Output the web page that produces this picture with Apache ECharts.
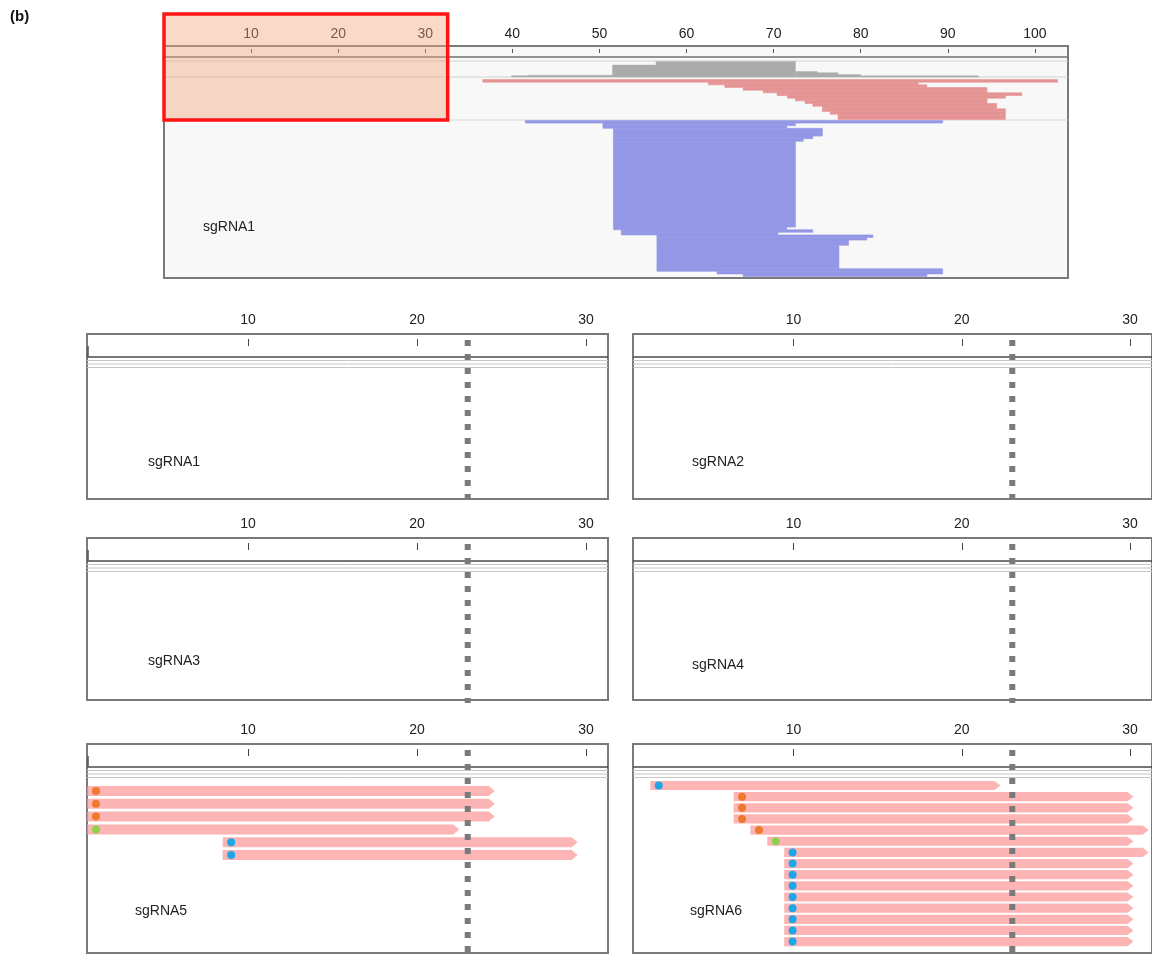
<!DOCTYPE html>
<html>
<head>
<meta charset="utf-8">
<script src="https://cdn.jsdelivr.net/npm/echarts@6/dist/echarts.min.js"></script>
<style>
html,body{margin:0;padding:0;background:#fff}
#main{width:1152px;height:956px}
</style>
</head>
<body>
<div id="main"></div>
<script>
// overview track: coverage [start, end, depth]
var greyCoverage = [[39.9,41.9,1.3],[41.9,51.5,1.8],[51.5,56.5,12],[56.5,72.5,15.5],[72.5,75,5.5],[75,77.4,4.3],[77.4,80,2.5],[80,93.5,1.2]];
// forward reads, one per row [start, end]
var redReads = [[36.6,102.6],[62.5,86.6],[64.4,87.6],[66.5,94.5],[68.8,94.5],[70.4,98.5],[71.6,96.6],[72.5,94.5],
  [73.6,94.5],[74.5,95.6],[75.6,95.6],[75.6,96.6],[76.5,96.6],[77.4,96.6],[77.4,96.6]];
// reverse reads grouped [start, end, rows]
var blueBlocks = [[41.5,89.4,1],[50.4,72.5,1],[50.4,71.5,1],[51.6,75.6,3],[51.6,74.5,1],[51.6,73.4,1],[51.6,72.5,33],
  [51.6,71.5,1],[52.5,74.5,1],[52.5,70.5,1],[56.6,81.4,1],[56.6,80.7,1],[56.6,78.6,2],[56.6,77.5,9],[56.6,89.4,1],
  [63.5,89.4,1],[66.5,87.6,1]];
var topTicks = [10,20,30,40,50,60,70,80,90,100];
var highlight = [0, 32.57];

// zoomed panels: reads [start, end, marker]  (o = orange, g = green, b = blue)
var panelTicks = [10,20,30];
var cutSite = 23;
var sg5Reads = [[0.5,24.6,'o'],[0.5,24.6,'o'],[0.5,24.6,'o'],[0.5,22.5,'g'],[8.5,29.5,'b'],[8.5,29.5,'b']];
var sg6Reads = [[1.5,22.3,'b'],[6.45,30.2,'o'],[6.45,30.2,'o'],[6.45,30.2,'o'],[7.45,31.1,'o'],[8.45,30.2,'g'],
  [9.45,31.1,'b'],[9.45,30.2,'b'],[9.45,30.2,'b'],[9.45,30.2,'b'],[9.45,30.2,'b'],[9.45,30.2,'b'],[9.45,30.2,'b'],
  [9.45,30.2,'b'],[9.45,30.2,'b']];
var panelNames = ['sgRNA1','sgRNA2','sgRNA3','sgRNA4','sgRNA5','sgRNA6'];

var FONT = 'Liberation Sans, Arial, Helvetica, sans-serif';
var markerColor = {o:'#ef7a2c', g:'#8fcf4e', b:'#1ea6e8'};
var TOP_MAX = 103.8, P_MIN = 0.47, P_MAX = 31.3;

var myChart = echarts.init(document.getElementById('main'));

function rect(api, x0, x1, y0, y1) {
  var a = api.coord([x0, y0]), b = api.coord([x1, y1]);
  return {x:a[0], y:a[1], width:b[0]-a[0], height:b[1]-a[1]};
}
function hline(api, x0, x1, y, color, w) {
  var a = api.coord([x0, y]), b = api.coord([x1, y]);
  return {type:'line', shape:{x1:a[0], y1:a[1], x2:b[0], y2:b[1]}, style:{stroke:color, lineWidth:w}};
}

// panel layout (left, top, height) for the six zoomed panels
var panels = [
  {left:87, top:334, h:165}, {left:633, top:334, h:165},
  {left:87, top:538, h:162}, {left:633, top:538, h:162},
  {left:87, top:744, h:209}, {left:633, top:744, h:209}
];
var readLayout = {4:{reads:sg5Reads, row0:47, step:12.8, h:10}, 5:{reads:sg6Reads, row0:41.5, step:11.15, h:9.2}};
var labelPos = [[148,455],[692,455],[148,654],[692,658],[135,904],[690,904]];

var grids = [{left:164, top:46, width:904, height:232, show:true, backgroundColor:'#f8f8f8', borderColor:'#7a7a7a', borderWidth:2}];
var xAxes = [{
  gridIndex:0, type:'value', min:0, max:TOP_MAX, position:'top', offset:-3,
  axisLine:{show:false}, splitLine:{show:false},
  axisTick:{inside:true, length:4, customValues:topTicks, lineStyle:{color:'#555'}},
  axisLabel:{customValues:topTicks, margin:8, fontSize:14, color:'#222', fontFamily:FONT}
}];
var yAxes = [{gridIndex:0, type:'value', min:0, max:232, inverse:true, show:false}];
var series = [];
var titles = [{text:'(b)', left:10, top:9, padding:0, textStyle:{fontSize:15, fontWeight:'bold', color:'#111', fontFamily:FONT}},
  {text:'sgRNA1', left:203, top:220, padding:0, textStyle:{fontSize:14, fontWeight:'normal', color:'#222', fontFamily:FONT}}];

// overview decorations
series.push({type:'custom', xAxisIndex:0, yAxisIndex:0, z:1, silent:true, data:[[0]],
  renderItem:function(params, api){
    return {type:'group', children:[
      hline(api, 0, TOP_MAX, 11, '#707070', 1.5),
      hline(api, 0, TOP_MAX, 15, '#cfcfcf', 1),
      hline(api, 0, TOP_MAX, 31, '#d2d2d2', 1),
      hline(api, 0, TOP_MAX, 74, '#dadada', 1.2)
    ]};
  }});
series.push({type:'custom', xAxisIndex:0, yAxisIndex:0, z:2, silent:true, data:greyCoverage,
  renderItem:function(params, api){
    var d = greyCoverage[params.dataIndex];
    return {type:'rect', shape:rect(api, d[0], d[1], 31 - d[2], 31), style:{fill:'#ababab', stroke:'#ababab', lineWidth:0.4}};
  }});
series.push({type:'custom', xAxisIndex:0, yAxisIndex:0, z:2, silent:true, data:redReads,
  renderItem:function(params, api){
    var d = redReads[params.dataIndex], y = 33.5 + params.dataIndex * 2.67;
    return {type:'rect', shape:rect(api, d[0], d[1], y, y + 2.67), style:{fill:'#e59394', stroke:'#e59394', lineWidth:0.6}};
  }});
// blocks stacked downward from the top of the reverse-read track
var blueStart = [], acc = 0;
blueBlocks.forEach(function(b){ blueStart.push(acc); acc += b[2]; });
series.push({type:'custom', xAxisIndex:0, yAxisIndex:0, z:2, silent:true, data:blueBlocks,
  renderItem:function(params, api){
    var d = blueBlocks[params.dataIndex], y = 74.5 + blueStart[params.dataIndex] * 2.6;
    return {type:'rect', shape:rect(api, d[0], d[1], y, y + d[2] * 2.6), style:{fill:'#9497e6', stroke:'#9497e6', lineWidth:0.6}};
  }});
// zoom highlight box
series.push({type:'custom', xAxisIndex:0, yAxisIndex:0, z:10, silent:true, clip:false, data:[highlight],
  renderItem:function(params, api){
    return {type:'rect', shape:rect(api, highlight[0], highlight[1], -32, 74),
      style:{fill:'rgba(240,168,125,0.42)', stroke:'#ff1414', lineWidth:3.5}};
  }});

panels.forEach(function(p, i){
  var g = i + 1;
  grids.push({left:p.left, top:p.top, width:521, height:p.h, show:true, backgroundColor:'#fff', borderColor:'#7a7a7a', borderWidth:2});
  xAxes.push({gridIndex:g, type:'value', min:P_MIN, max:P_MAX, position:'top', offset:-5,
    axisLine:{show:false}, splitLine:{show:false},
    axisTick:{inside:true, length:7, customValues:panelTicks, lineStyle:{color:'#444'}},
    axisLabel:{customValues:panelTicks, margin:12, fontSize:14, color:'#222', fontFamily:FONT}});
  yAxes.push({gridIndex:g, type:'value', min:0, max:p.h, inverse:true, show:false});
  var leftCol = (i % 2 === 0);
  series.push({type:'custom', xAxisIndex:g, yAxisIndex:g, z:1, silent:true, clip:false, data:[[0]],
    renderItem:function(params, api){
      var kids = [
        hline(api, P_MIN, P_MAX, 23, '#4a4a4a', 1.5),
        hline(api, P_MIN, P_MAX, 26.5, '#c6c6c6', 1),
        hline(api, P_MIN, P_MAX, 30, '#c6c6c6', 1),
        hline(api, P_MIN, P_MAX, 33.5, '#c6c6c6', 1)
      ];
      if (leftCol) {
        var s0 = api.coord([P_MIN + 0.06, 12]), s1 = api.coord([P_MIN + 0.06, 23]);
        kids.push({type:'line', shape:{x1:s0[0], y1:s0[1], x2:s1[0], y2:s1[1]}, style:{stroke:'#555', lineWidth:1.5}});
      }
      return {type:'group', children:kids};
    }});
  var lay = readLayout[i];
  if (lay) {
    series.push({type:'custom', xAxisIndex:g, yAxisIndex:g, z:2, silent:true, clip:false, data:lay.reads.map(function(r){ return [r[0], r[1]]; }),
      renderItem:function(params, api){
        var r = lay.reads[params.dataIndex];
        var yc = lay.row0 + params.dataIndex * lay.step;
        var a = api.coord([r[0], yc - lay.h / 2]), b = api.coord([r[1], yc + lay.h / 2]);
        var mid = (a[1] + b[1]) / 2, tip = 6;
        var dot = api.coord([r[0] + 0.5, yc]);
        return {type:'group', children:[
          {type:'polygon', shape:{points:[[a[0], a[1]], [b[0] - tip, a[1]], [b[0], mid], [b[0] - tip, b[1]], [a[0], b[1]]]}, style:{fill:'#fcb4b4'}},
          {type:'circle', shape:{cx:dot[0], cy:dot[1], r:4}, style:{fill:markerColor[r[2]]}}
        ]};
      }});
  }
  // cut site, drawn over the reads
  series.push({type:'custom', xAxisIndex:g, yAxisIndex:g, z:5, silent:true, clip:false, data:[[cutSite]],
    renderItem:function(params, api){
      var c0 = api.coord([cutSite, 6]), c1 = api.coord([cutSite, p.h + 3]);
      return {type:'line', shape:{x1:c0[0], y1:c0[1], x2:c1[0], y2:c1[1]},
        style:{stroke:'#7a7a7a', lineWidth:6, lineDash:[6, 8], lineCap:'butt'}};
    }});
  titles.push({text:panelNames[i], left:labelPos[i][0], top:labelPos[i][1], padding:0,
    textStyle:{fontSize:14, fontWeight:'normal', color:'#222', fontFamily:FONT}});
});

var option = {
  animation:false,
  backgroundColor:'#fff',
  title:titles,
  grid:grids,
  xAxis:xAxes,
  yAxis:yAxes,
  series:series
};
myChart.setOption(option);
</script>
</body>
</html>
